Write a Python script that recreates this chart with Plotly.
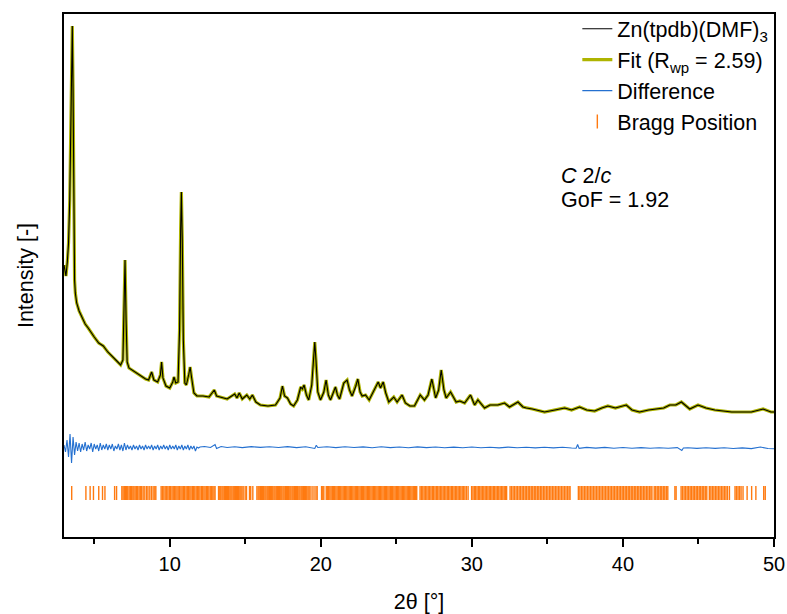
import numpy as np
import plotly.graph_objects as go

# ---------------- data (arbitrary intensity units) -------------
obs_2theta = [3.00, 3.06, 3.13, 3.22, 3.30, 3.38, 3.45, 3.50, 3.55, 3.60, 3.65, 3.70, 3.75, 3.84,
              4.0, 4.2, 4.4, 4.6, 4.8, 5.0, 5.3, 5.6, 5.9, 6.2, 6.5, 6.75, 6.90, 6.97, 7.04, 7.11,
              7.18, 7.3, 7.5, 7.8, 8.1, 8.4, 8.6, 8.8, 8.95, 9.2, 9.38, 9.46, 9.55, 9.75, 10.0,
              10.2, 10.28, 10.4, 10.55, 10.65, 10.72, 10.77, 10.83, 10.9, 11.0, 11.1, 11.25, 11.35,
              11.45, 11.6, 11.8, 12.2, 12.6, 12.95, 13.1, 13.5, 13.8, 14.0, 14.3, 14.45, 14.6, 14.8,
              15.1, 15.3, 15.47, 15.7, 16.0, 16.5, 17.0, 17.3, 17.46, 17.6, 17.79, 18.0, 18.2,
              18.45, 18.67, 18.78, 18.89, 19.05, 19.2, 19.4, 19.52, 19.6, 19.68, 19.8, 19.98, 20.2,
              20.35, 20.5, 20.64, 20.8, 20.97, 21.1, 21.24, 21.4, 21.52, 21.74, 21.9, 22.07, 22.3,
              22.45, 22.6, 22.74, 22.96, 23.2, 23.5, 23.8, 23.95, 24.13, 24.3, 24.5, 24.83, 25.05,
              25.38, 25.6, 25.9, 26.2, 26.58, 26.86, 27.1, 27.35, 27.6, 27.8, 27.97, 28.15, 28.3,
              28.59, 28.96, 29.2, 29.52, 29.91, 30.18, 30.4, 30.84, 31.2, 31.72, 32.16, 32.49,
              33.05, 33.38, 33.6, 34.0, 34.81, 35.5, 36.14, 36.6, 37.13, 37.6, 38.13, 38.6, 39.0,
              39.5, 40.22, 40.6, 41.1, 41.7, 42.32, 42.7, 43.1, 43.5, 43.87, 44.15, 44.42, 44.97,
              45.5, 46.08, 46.6, 47.2, 47.8, 48.5, 49.28, 49.8, 50.0]
obs_intensity = [272, 267, 261, 275, 294, 337, 417, 487, 511, 447, 317, 257, 244, 234,
                 226, 219, 213, 209, 204, 200, 194, 191, 185, 180, 176, 172, 177, 227, 277, 217,
                 175, 169, 167, 164, 161, 158, 157, 165, 157, 155, 162, 175, 159, 151, 149,
                 155, 160, 154, 155, 207, 307, 345, 297, 197, 154, 152, 162, 170,
                 159, 144, 141, 141, 140, 147, 141, 139, 138, 140, 143, 139, 144, 138,
                 142, 138, 142, 135, 132, 131, 132, 139, 151, 141, 139, 133, 131,
                 137, 150, 148, 152, 142, 137, 152, 182, 195, 177, 145, 137, 145,
                 157, 142, 137, 143, 150, 142, 138, 147, 154, 157, 147, 141, 150,
                 158, 145, 141, 142, 137, 146, 155, 149, 155, 144, 135, 140, 135,
                 142, 134, 131, 131, 142, 137, 142, 158, 139, 147, 167, 147, 139,
                 145, 135, 136, 134, 142, 132, 137, 129, 132, 132, 134, 130,
                 135, 130, 129, 128, 125, 127, 129, 127, 130, 127, 126, 129, 131,
                 129, 132, 127, 125, 127, 128, 129, 132, 132, 135, 131, 128, 132,
                 129, 127, 126, 125, 125, 125, 128, 125, 125]
fit_intensity = list(obs_intensity)

diff_head_values = [92, 85, 97, 80, 103, 74, 100, 82, 95, 86, 94, 85, 93, 87, 95, 86, 92, 88, 94, 85,
                    93, 88, 92, 86, 94, 87, 92, 88, 93, 87, 92, 88, 93, 86, 91, 88, 93, 87, 92, 86,
                    94, 87, 92, 88, 91, 87, 92, 88, 91, 87, 92, 88, 91, 87, 92, 88, 91, 88, 92, 87,
                    91, 88, 92, 87, 91, 88, 92, 88, 91, 87, 92, 88, 91, 88, 92, 87, 91, 88, 92, 87,
                    91, 88, 92, 87, 91, 88, 91, 86, 90, 89, 90]
diff_tail_2theta = [12.3, 12.7, 13.0, 13.1, 13.4, 13.8, 14.3, 14.8, 15.4, 16.0, 16.6, 17.2, 17.8,
                    18.4, 19.0, 19.6, 19.7, 19.8, 20.4, 21.0, 21.6, 22.2, 22.8, 23.4, 24.0, 24.6,
                    25.2, 25.8, 26.4, 27.0, 27.6, 28.2, 28.8, 29.4, 30.0, 30.6, 31.2, 31.8, 32.4,
                    33.0, 33.6, 34.2, 34.8, 35.4, 36.0, 36.6, 36.9, 37.0, 37.1, 37.6, 38.2, 38.8,
                    39.4, 40.0, 40.6, 41.2, 41.8, 42.4, 43.0, 43.6, 43.9, 44.0, 44.3, 44.9, 45.5,
                    46.1, 46.7, 47.3, 47.9, 48.5, 49.1, 49.6, 50.0]
diff_tail_values = [90.5, 89.5, 92.5, 88.5, 90.5, 89.5, 90.2, 89.4, 90.4, 89.6, 90.3, 89.5, 90.4,
                    89.4, 90.2, 88.5, 91.8, 89.5, 90.2, 89.4, 90.3, 89.5, 90.1, 89.3, 90.2, 89.4,
                    90.0, 89.3, 90.1, 89.4, 90.0, 89.2, 89.9, 89.3, 90.0, 89.2, 89.8, 89.1, 89.9,
                    89.2, 89.8, 89.1, 89.7, 89.1, 89.8, 89.0, 88.8, 92.5, 88.6, 89.6, 88.9, 89.6,
                    88.8, 89.5, 88.8, 89.4, 88.7, 89.3, 88.8, 89.4, 86.5, 89.0, 89.3, 88.6, 89.3,
                    88.6, 89.2, 88.5, 89.1, 88.4, 90.0, 88.5, 88.3]

bragg_2theta = [
    3.51, 4.45, 4.73, 4.95, 5.30, 5.55, 5.71, 6.35, 6.48,
    6.83, 6.91, 6.99, 7.06, 7.14, 7.22, 7.31, 7.39, 7.48, 7.56, 7.63, 7.71, 7.80, 7.88, 7.97, 8.05, 8.14,
    8.24, 8.35, 8.47, 8.56, 8.68, 8.79, 8.90, 9.01, 9.08,
    9.43, 9.52, 9.61, 9.70, 9.80, 9.88, 9.97, 10.06, 10.15, 10.23, 10.31, 10.40, 10.48, 10.56, 10.65,
    10.74, 10.82, 10.91, 10.99, 11.08, 11.16, 11.24, 11.33, 11.41, 11.50, 11.58, 11.66, 11.75, 11.84,
    11.92, 12.00, 12.09, 12.17, 12.26, 12.34, 12.43, 12.51, 12.59, 12.68, 12.76, 12.85, 12.93, 13.00,
    13.23, 13.31, 13.38, 13.46, 13.53, 13.61, 13.68, 13.76, 13.83, 13.90, 13.98, 14.05, 14.12, 14.20,
    14.27, 14.34, 14.42, 14.49, 14.56, 14.64, 14.71, 14.78, 14.86,
    14.99, 15.08, 15.28, 15.36, 15.50,
    15.77, 15.85, 15.92, 16.00, 16.07, 16.15, 16.22, 16.30, 16.37, 16.45, 16.52, 16.60, 16.67, 16.75,
    16.82, 16.90, 16.97, 17.05, 17.12, 17.20, 17.27, 17.35, 17.42, 17.50, 17.57, 17.65, 17.72, 17.80,
    17.87, 17.95, 18.02, 18.10, 18.17, 18.25, 18.32, 18.40, 18.47, 18.55, 18.62, 18.70, 18.77, 18.85,
    18.92, 19.00, 19.07, 19.15, 19.22, 19.29,
    19.42, 19.55, 19.68, 19.76,
    20.05, 20.13, 20.20, 20.36, 20.44, 20.52, 20.60, 20.68, 20.76, 20.84, 20.92, 21.00, 21.08, 21.16,
    21.24, 21.32, 21.40, 21.48, 21.56, 21.64, 21.72, 21.80, 21.88, 21.96, 22.04, 22.12, 22.20, 22.28,
    22.36, 22.44, 22.52, 22.60, 22.68, 22.76, 22.84, 22.92, 23.00, 23.08, 23.16, 23.24, 23.32, 23.40,
    23.48, 23.56, 23.64, 23.72, 23.80, 23.88, 23.96, 24.04, 24.12, 24.20, 24.28, 24.36, 24.44, 24.52,
    24.60, 24.68, 24.76, 24.84, 24.92, 25.00, 25.08, 25.16, 25.24, 25.32, 25.40, 25.48, 25.56, 25.64,
    25.72, 25.80, 25.88, 25.96, 26.04, 26.12, 26.20, 26.28, 26.35,
    26.57, 26.66, 26.75, 26.84, 26.93, 27.02, 27.11, 27.20, 27.29, 27.38, 27.47, 27.56, 27.65, 27.74,
    27.83, 27.92, 28.01, 28.10, 28.19, 28.28, 28.37, 28.46, 28.55, 28.64, 28.73, 28.82, 28.91, 29.00,
    29.09, 29.18, 29.27, 29.36, 29.45, 29.54, 29.64,
    29.75,
    29.98, 30.07, 30.16, 30.25, 30.34, 30.43, 30.52, 30.61, 30.70, 30.79, 30.88, 30.97, 31.06, 31.15,
    31.24, 31.33, 31.42, 31.51, 31.60, 31.69, 31.78, 31.87, 31.96, 32.05, 32.14, 32.23, 32.30,
    32.53, 32.63, 32.73, 32.83, 32.93, 33.03, 33.13, 33.23, 33.33, 33.43, 33.53, 33.63, 33.73, 33.83,
    33.93, 34.03, 34.13, 34.23, 34.33, 34.43, 34.53, 34.63, 34.73, 34.83, 34.93, 35.03, 35.13, 35.23,
    35.33, 35.43, 35.53, 35.63, 35.73, 35.83, 35.93, 36.03, 36.13, 36.23, 36.33, 36.43, 36.50,
    37.05, 37.15, 37.25, 37.35, 37.45, 37.55, 37.65, 37.75, 37.85, 37.95, 38.05, 38.15, 38.25, 38.35,
    38.45, 38.55, 38.65, 38.75, 38.85, 38.95, 39.05, 39.15, 39.25, 39.35, 39.45, 39.55, 39.65, 39.75,
    39.85, 39.95, 40.05, 40.15, 40.25, 40.35, 40.45, 40.55, 40.65, 40.75, 40.85, 40.95, 41.05, 41.15,
    41.25, 41.35, 41.45, 41.55, 41.65, 41.75, 41.85, 41.92,
    42.07, 42.17, 42.27, 42.37, 42.47, 42.57, 42.67, 42.77, 42.87, 42.97,
    43.44, 43.52,
    43.85, 43.95, 44.05, 44.15, 44.25, 44.35, 44.45, 44.55, 44.65, 44.75, 44.85, 44.95, 45.05, 45.15,
    45.25, 45.35, 45.45, 45.55,
    45.72, 45.82, 45.92, 46.02, 46.12, 46.22, 46.32, 46.42, 46.52, 46.62, 46.72, 46.82, 46.92, 47.05,
    47.42, 47.52, 47.62, 47.72, 47.82, 47.95,
    48.22, 48.52, 48.80, 49.32, 49.42,
]
bragg_level = 44

x_ticks = [10, 20, 30, 40, 50]

# ---------------- figure -------------
diff_head_2theta = list(np.round(np.arange(3.0, 12.0001, 0.1), 2))
diff_2theta = diff_head_2theta + diff_tail_2theta
diff_values = diff_head_values + diff_tail_values

FONT = "Arial, Liberation Sans, sans-serif"
TXT = 21.5
fit_color = "#AEB400"
diff_color = "#2470D0"
bragg_color = "#FF7A10"

fig = go.Figure()
fig.add_trace(go.Scatter(x=obs_2theta, y=fit_intensity, mode="lines",
                         line=dict(color=fit_color, width=3.2),
                         name="Fit (R<sub>wp</sub> = 2.59)", legendrank=2))
fig.add_trace(go.Scatter(x=obs_2theta, y=obs_intensity, mode="lines",
                         line=dict(color="black", width=1.1),
                         name="Zn(tpdb)(DMF)<sub>3</sub>", legendrank=1))
fig.add_trace(go.Scatter(x=diff_2theta, y=diff_values, mode="lines",
                         line=dict(color=diff_color, width=1.1),
                         name="Difference", legendrank=3))
fig.add_trace(go.Scatter(x=bragg_2theta, y=[bragg_level] * len(bragg_2theta), mode="markers",
                         marker=dict(symbol="line-ns", size=10,
                                     line=dict(width=1.4, color=bragg_color)),
                         name="Bragg Position", legendrank=4))

fig.update_layout(
    width=787, height=614,
    margin=dict(l=64, r=13, t=14, b=77, autoexpand=False),
    paper_bgcolor="white", plot_bgcolor="white",
    font=dict(family=FONT, size=TXT, color="black"),
    showlegend=True,
    legend=dict(x=0.723, y=1.011, xanchor="left", yanchor="top",
                bgcolor="rgba(0,0,0,0)", borderwidth=0,
                font=dict(family=FONT, size=TXT, color="black"),
                tracegroupgap=0, itemwidth=30),
    xaxis=dict(range=[3, 50], tickvals=x_ticks, ticks="outside", ticklen=8, tickwidth=1.5,
               tickcolor="black", showline=True, linecolor="black", linewidth=1.5, mirror=True,
               showgrid=False, zeroline=False, automargin=False,
               tickfont=dict(family=FONT, size=20, color="black"),
               minor=dict(tickvals=[5, 15, 25, 35, 45], ticks="outside", ticklen=5,
                          tickwidth=1.5, tickcolor="black"),
               title=dict(text="2θ [°]", font=dict(family=FONT, size=TXT, color="black"),
                          standoff=25)),
    yaxis=dict(range=[0, 523], showticklabels=False, ticks="", showline=True,
               linecolor="black", linewidth=1.5, mirror=True, showgrid=False, zeroline=False,
               automargin=False,
               title=dict(text="Intensity [-]", font=dict(family=FONT, size=TXT, color="black"),
                          standoff=23)),
)

fig.add_annotation(xref="paper", yref="paper", x=(559 - 64) / 710, y=(537 - 176) / 523,
                   xanchor="left", yanchor="middle", showarrow=False,
                   text="<i>C</i> 2/<i>c</i>", font=dict(family=FONT, size=TXT, color="black"))
fig.add_annotation(xref="paper", yref="paper", x=(559 - 64) / 710, y=(537 - 200) / 523,
                   xanchor="left", yanchor="middle", showarrow=False,
                   text="GoF = 1.92", font=dict(family=FONT, size=TXT, color="black"))

fig.write_html("out.html")
